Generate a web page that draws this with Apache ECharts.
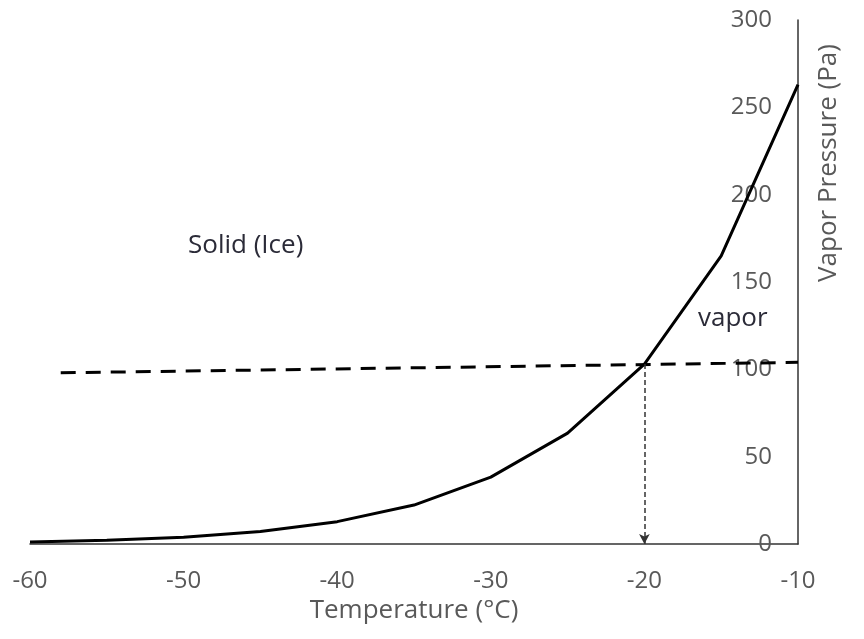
<!DOCTYPE html>
<html>
<head>
<meta charset="utf-8">
<script src="https://cdn.jsdelivr.net/npm/echarts@6/dist/echarts.min.js"></script>
<style>
  html, body { margin: 0; padding: 0; background: #fff; }
  #chart { width: 864px; height: 639px; }
</style>
</head>
<body>
<div id="chart"></div>
<script>
// ice vapor pressure curve
var temps = [-60, -55, -50, -45, -40, -35, -30, -25, -20, -15, -10];
var pressures = [1.1, 2.1, 3.9, 7.2, 12.8, 22.3, 38.3, 63.5, 103, 165, 263];

// dashed reference line (endpoints)
var refTemps = [-58, -10];
var refPressures = [98, 104];

// dotted arrow from the crossing down to the axis
var arrowTemp = -20;
var arrowFrom = 103;
var arrowTo = 0;

var chartDom = document.getElementById("chart");
var myChart = echarts.init(chartDom);
var option;

var font = "Open Sans";

option = {
  animation: false,
  grid: {
    left: 30,
    right: 66,
    top: 20,
    bottom: 95,
  },
  xAxis: {
    type: "value",
    min: -60,
    max: -10,
    interval: 10,
    name: "Temperature (°C)",
    nameLocation: "middle",
    nameGap: 54,
    nameTextStyle: { fontFamily: font, fontSize: 26, color: "#595959" },
    axisLine: { lineStyle: { color: "#333", width: 1.5 } },
    axisTick: { show: false },
    splitLine: { show: false },
    axisLabel: { fontFamily: font, fontSize: 24, color: "#595959", margin: 25 },
  },
  yAxis: {
    type: "value",
    position: "right",
    min: 0,
    max: 300,
    interval: 50,
    axisLine: { show: true, lineStyle: { color: "#333", width: 1.5 } },
    axisTick: { show: false },
    splitLine: { show: false },
    axisLabel: { inside: true, fontFamily: font, fontSize: 24, color: "#595959", margin: 26 },
  },
  graphic: [
    {
      type: "text",
      x: 829,
      y: 163,
      rotation: Math.PI / 2,
      style: {
        text: "Vapor Pressure (Pa)",
        fontFamily: font,
        fontSize: 26,
        fill: "#595959",
        align: "center",
        verticalAlign: "middle",
      },
    },
    {
      type: "text",
      left: 188,
      top: 233,
      style: { text: "Solid (Ice)", fontFamily: font, fontSize: 26, fill: "#2b2b38" },
    },
    {
      type: "text",
      left: 698,
      top: 306,
      style: { text: "vapor", fontFamily: font, fontSize: 26, fill: "#2b2b38" },
    },
  ],
  series: [
    {
      name: "Ice",
      type: "line",
      data: temps.map(function (t, i) {
        return [t, pressures[i]];
      }),
      symbol: "none",
      lineStyle: { color: "#000", width: 3 },
      z: 3,
      markLine: {
        silent: true,
        symbol: ["none", "arrow"],
        symbolSize: [8, 10],
        label: { show: false },
        lineStyle: { color: "#333", width: 1.5, type: [5, 3] },
        data: [
          [
            { coord: [arrowTemp, arrowFrom] },
            { coord: [arrowTemp, arrowTo] },
          ],
        ],
      },
    },
    {
      name: "Reference",
      type: "line",
      data: refTemps.map(function (t, i) {
        return [t, refPressures[i]];
      }),
      symbol: "none",
      lineStyle: { color: "#000", width: 3, type: [15, 10] },
      z: 2,
    },
  ],
};

option && myChart.setOption(option);
</script>
</body>
</html>
